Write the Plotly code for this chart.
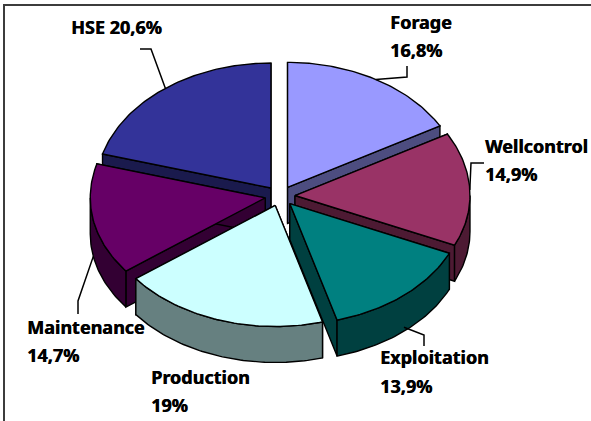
import math
import plotly.graph_objects as go

categories = ["Forage", "Wellcontrol", "Exploitation", "Production", "Maintenance", "HSE"]
values = [16.8, 14.9, 13.9, 19, 14.7, 20.6]
top_colors = ["#9999FF", "#993366", "#008080", "#CCFFFF", "#660066", "#333399"]
side_colors = ["#4D4D80", "#4D1A33", "#004040", "#668080", "#330033", "#1A1A4D"]
paint_order = ["HSE", "Forage", "Maintenance", "Wellcontrol", "Production", "Exploitation"]

CX, CY, RX, RY_BACK, RY_FRONT, DEPTH = 280, 196, 175, 125, 121, 36
PULL_X, PULL_Y = 15, 10
W, H = 591, 421
FONT = dict(family="Noto Sans", size=18, color="#000000", shadow="0.5px 0 0 #000000")

total = sum(values)
geo = {}
acc = 0
for name, v, tc, sc in zip(categories, values, top_colors, side_colors):
    a0 = acc / total * 360
    acc += v
    a1 = acc / total * 360
    mid = (a0 + a1) / 2
    tip = (CX + PULL_X * math.sin(math.radians(mid)),
           CY - PULL_Y * math.cos(math.radians(mid)))
    geo[name] = dict(a0=a0, a1=a1, mid=mid, tip=tip, top=tc, side=sc)


def arc_pt(g, a, drop=0):
    r = math.radians(a)
    c = math.cos(r)
    ry = RY_BACK if c > 0 else RY_FRONT
    return g["tip"][0] + RX * math.sin(r), g["tip"][1] - ry * c + drop


def arc(g, a0, a1, drop=0):
    n = max(2, int(abs(a1 - a0)) + 1)
    return [arc_pt(g, a0 + (a1 - a0) * i / (n - 1), drop) for i in range(n)]


fig = go.Figure()


def poly(pts, color, width=1.4):
    fig.add_trace(go.Scatter(
        x=[p[0] for p in pts] + [pts[0][0]], y=[p[1] for p in pts] + [pts[0][1]],
        mode="lines", fill="toself", fillcolor=color,
        line=dict(color="#000000", width=width), hoverinfo="skip", showlegend=False))


for name in paint_order:
    g = geo[name]
    t = g["tip"]
    t_low = (t[0], t[1] + DEPTH)
    for a in (g["a0"], g["a1"]):
        p, q = arc_pt(g, a), arc_pt(g, a, DEPTH)
        poly([t, p, q, t_low], g["side"])
    s0, s1 = max(g["a0"], 90), min(g["a1"], 270)
    if s1 > s0:
        poly(arc(g, s0, s1) + arc(g, s1, s0, DEPTH), g["side"])
    poly([t] + arc(g, g["a0"], g["a1"]), g["top"])

# leader lines: label elbow -> slice edge at its mid angle
leaders = {
    "HSE": ([(140, 49), (151, 49)], 0),
    "Forage": ([(407, 66), (407, 77)], 0),
    "Wellcontrol": ([(484, 163), (471, 163)], 0),
    "Exploitation": ([(424, 346), (424, 335)], DEPTH - 4),
    "Maintenance": ([(78, 314), (78, 301)], DEPTH),
}
for name, (elbow, drop) in leaders.items():
    pts = elbow + [arc_pt(geo[name], geo[name]["mid"], drop)]
    fig.add_trace(go.Scatter(x=[p[0] for p in pts], y=[p[1] for p in pts], mode="lines",
                             line=dict(color="#000000", width=1.5),
                             hoverinfo="skip", showlegend=False))

# labels
label_pos = {
    "Forage": (389, 22, 50),
    "Wellcontrol": (484, 146, 174),
    "Exploitation": (379, 357, 386),
    "Production": (150, 377, 405),
    "Maintenance": (26, 327, 355),
    "HSE": (70, 27, None),
}
annotations = []
for name, v in zip(categories, values):
    x, y1, y2 = label_pos[name]
    pct = f"{v:g}".replace(".", ",") + "%"
    lines = [(f"{name} {pct}", y1)] if y2 is None else [(name, y1), (pct, y2)]
    for text, y in lines:
        annotations.append(dict(x=x, y=y, xref="x", yref="y", text=f"<b>{text}</b>",
                                showarrow=False, xanchor="left", yanchor="middle",
                                font=FONT, borderpad=0))

fig.update_layout(
    width=W, height=H, margin=dict(l=0, r=0, t=0, b=0),
    paper_bgcolor="#FFFFFF", plot_bgcolor="#FFFFFF", showlegend=False,
    xaxis=dict(range=[0, W], visible=False, fixedrange=True),
    yaxis=dict(range=[H, 0], visible=False, fixedrange=True),
    annotations=annotations,
    shapes=[dict(type="rect", xref="x", yref="y", x0=4, y0=5, x1=W + 10, y1=H + 10,
                 line=dict(color="#3C3C3C", width=2), layer="below")],
)
fig.write_html("out.html", config={"displayModeBar": False},
               post_script="document.body.style.margin='0';document.documentElement.style.overflow='hidden';")
